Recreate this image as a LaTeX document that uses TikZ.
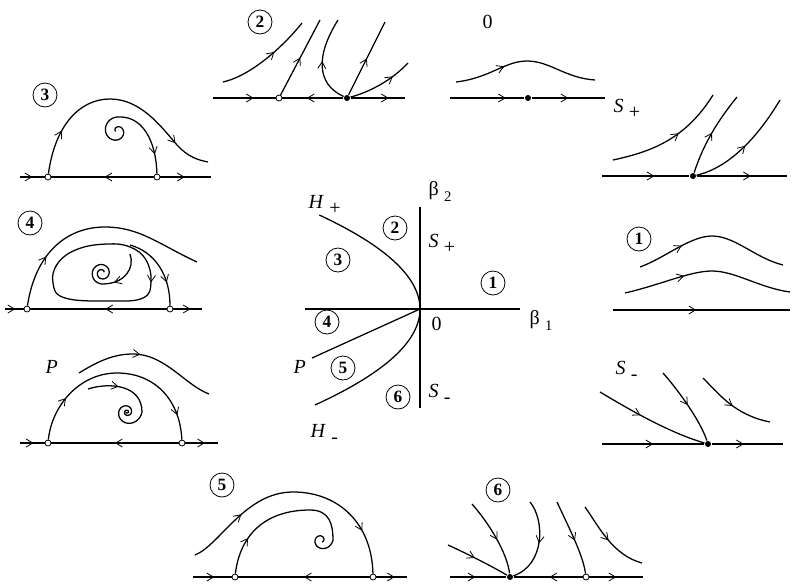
\documentclass[tikz,border=0pt]{standalone}
\usepackage{fontspec}
\setmainfont{Liberation Serif}
\usetikzlibrary{arrows.meta,decorations.markings}
\newcommand\sublab[2]{#1\kern4pt\raisebox{-5pt}{#2}}

\begin{document}
\begin{tikzpicture}[x=0.75pt,y=-0.75pt,line width=0.95pt,font=\fontsize{15}{17}\selectfont,
    flowat/.style={postaction={decorate,decoration={markings,mark=at position #1 with {\arrow{Straight Barb[length=5pt,width=6pt,line width=0.6pt]}}}}},
    opendot/.style={circle,draw,line width=0.6pt,fill=white,inner sep=0pt,minimum size=4.5pt},
    fulldot/.style={circle,fill,inner sep=0pt,minimum size=4.5pt},
    numc/.style={circle,draw,line width=0.6pt,inner sep=0pt,minimum size=18pt,font=\fontsize{13}{15}\selectfont\bfseries},
    lab/.style={inner sep=0pt,anchor=base west}]
    \useasboundingbox (0,0) rectangle (793,583);
    % circled region numbers
    \foreach \n/\x/\y in {3/45/95,2/260/22,4/30/223,1/639/239,5/222/485,6/498/490}
      \node[numc] (pc\n) at (\x,\y) {\n};
    \foreach \n/\x/\y in {2/395/228,3/338/260,1/493/283,4/327/322,5/343/368,6/398/397}
      \node[numc] (rc\n) at (\x,\y) {\n};

    % panel 3
    \node[opendot] (p3a) at (48,177) {};
    \node[opendot] (p3b) at (157,177) {};
    \draw[flowat=.5] (20,177) -- (p3a);
    \draw[flowat=.48] (p3b) -- (p3a);
    \draw[flowat=.48] (p3b) -- (211,177);
    \draw[flowat=.2,flowat=.83] (p3a) .. controls (55,125) and (80,99) .. (110,99) .. controls (140,99) and (160,125) .. (177,145) .. controls (188,157) and (198,160) .. (208,162);
    \draw plot[domain=170:630,samples=70] ({117+(\x-126)/36*cos(\x)},{131+(\x-126)/36*sin(\x)});
    \draw[flowat=.75] (117,117) .. controls (142,115) and (156,140) .. (p3b);

    % panel 2
    \node[opendot] (p2a) at (279,98) {};
    \node[fulldot] (p2b) at (347,98) {};
    \draw[flowat=.65] (213,98) -- (p2a);
    \draw[flowat=.6] (p2b) -- (p2a);
    \draw[flowat=.7] (p2b) -- (405,98);
    \draw[flowat=.6] (223,82) .. controls (250,76) and (282,48) .. (302,23);
    \draw[flowat=.5] (p2a) -- (320,20);
    \draw[flowat=.5] (p2b) .. controls (316,84) and (316,55) .. (338,20);
    \draw[flowat=.5] (p2b) -- (385,22);
    \draw[flowat=.7] (p2b) .. controls (370,92) and (392,80) .. (408,63);

    % panel 0
    \node[fulldot] (p0) at (528,98) {};
    \draw[flowat=.75] (450,98) -- (p0);
    \draw[flowat=.5] (p0) -- (605,98);
    \draw[flowat=.35] (456,82) .. controls (490,78) and (505,61) .. (527,61) .. controls (550,61) and (565,78) .. (595,80);
    \node[lab] (zero) at (482,28) {0};

    % panel S+
    \node[fulldot] (ps) at (693,176) {};
    \draw[flowat=.6] (602,176) -- (ps);
    \draw[flowat=.6] (ps) -- (787,176);
    \draw[flowat=.58] (613,160) .. controls (650,152) and (685,140) .. (713,95);
    \draw[flowat=.5] (ps) .. controls (700,155) and (710,130) .. (737,97);
    \draw[flowat=.5] (ps) .. controls (720,170) and (750,150) .. (780,100);
    \node[lab] (splus) at (613,112) {\sublab{\textit{S}}{+}};

    % panel 4
    \node[opendot] (p4a) at (27,309) {};
    \node[opendot] (p4b) at (170,309) {};
    \draw[flowat=.55] (5,309) -- (p4a);
    \draw[flowat=.45] (p4b) -- (p4a);
    \draw[flowat=.6] (p4b) -- (202,309);
    \draw[flowat=.24] (p4a) .. controls (35,255) and (65,227) .. (105,227) .. controls (140,227) and (160,245) .. (197,262);
    \draw[flowat=.7] (130,245) .. controls (155,252) and (170,275) .. (p4b);
    \draw[flowat=.17] plot[smooth cycle,tension=0.7] coordinates {(107,244) (130,247) (146,260) (151,282) (143,298) (110,301) (65,298) (53,283) (58,263) (78,249)};
    \draw[flowat=.75] (130,254) .. controls (135,268) and (125,284) .. (102,284);
    \draw plot[domain=90:700,samples=70] ({102+(11-(\x-90)/70)*cos(\x)},{273+(11-(\x-90)/70)*sin(\x)});

    % panel 1
    \draw[flowat=.47] (613,310) -- (790,310);
    \draw[flowat=.3] (640,267) .. controls (665,258) and (690,236) .. (712,236) .. controls (735,236) and (755,258) .. (783,265);
    \draw[flowat=.36] (625,293) .. controls (660,285) and (690,271) .. (712,271) .. controls (735,271) and (760,288) .. (790,292);

    % panel P
    \node[opendot] (ppa) at (48,443) {};
    \node[opendot] (ppb) at (182,443) {};
    \draw[flowat=.55] (20,443) -- (ppa);
    \draw[flowat=.5] (ppb) -- (ppa);
    \draw[flowat=.6] (ppb) -- (218,443);
    \draw[flowat=.45] (79,373) .. controls (100,360) and (115,354) .. (133,354) .. controls (165,354) and (185,385) .. (209,394);
    \draw[flowat=.22,flowat=.88] (ppa) .. controls (52,405) and (80,373) .. (117,373) .. controls (155,373) and (180,400) .. (ppb);
    \draw[flowat=.45] (88,389) .. controls (110,382) and (142,385) .. (142,412);
    \draw plot[domain=0:900,samples=90] ({127+15*exp(-\x/300)*cos(\x)},{412+15*exp(-\x/300)*sin(\x)});
    \node[lab] (plab) at (45,373) {\textit{P}};

    % panel S-
    \node[fulldot] (sm) at (708,444) {};
    \draw[flowat=.5] (602,444) -- (sm);
    \draw[flowat=.45] (sm) -- (783,444);
    \draw[flowat=.4] (600,392) .. controls (630,410) and (670,433) .. (sm);
    \draw[flowat=.5] (663,373) .. controls (678,390) and (700,420) .. (sm);
    \draw[flowat=.5] (703,378) .. controls (720,395) and (735,415) .. (770,422);
    \node[lab] (sminus) at (615,374) {\sublab{\textit{S}}{-}};

    % panel 5
    \node[opendot] (p5a) at (235,577) {};
    \node[opendot] (p5b) at (373,577) {};
    \draw[flowat=.55] (193,577) -- (p5a);
    \draw[flowat=.5] (p5b) -- (p5a);
    \draw[flowat=.6] (p5b) -- (407,577);
    \draw[flowat=.25,flowat=.82] (195,555) .. controls (220,545) and (245,492) .. (293,492) .. controls (340,492) and (372,525) .. (p5b);
    \draw[flowat=.25] (p5a) .. controls (240,535) and (265,510) .. (310,510) .. controls (330,510) and (333,525) .. (333,540);
    \draw plot[domain=0:420,samples=50] ({321+12*exp(-\x/250)*cos(\x)},{540+12*exp(-\x/250)*sin(\x)});

    % panel 6
    \node[fulldot] (p6a) at (510,577) {};
    \node[opendot] (p6b) at (586,577) {};
    \draw[flowat=.45] (450,577) -- (p6a);
    \draw[flowat=.48] (p6b) -- (p6a);
    \draw[flowat=.5] (p6b) -- (643,577);
    \draw[flowat=.45] (448,545) .. controls (470,555) and (495,568) .. (p6a);
    \draw[flowat=.55] (472,504) .. controls (488,522) and (507,552) .. (p6a);
    \draw[flowat=.5] (530,502) .. controls (545,520) and (545,565) .. (p6a);
    \draw[flowat=.55] (557,502) .. controls (570,530) and (583,555) .. (p6b);
    \draw[flowat=.5] (585,507) .. controls (598,525) and (612,555) .. (642,563);

    % bifurcation diagram
    \coordinate (o) at (420,309);
    \draw (420,207) -- (420,408);
    \draw (o) -- (520,309);
    \draw[line width=1.6pt] (305,309) -- (o);
    \draw plot[domain=-94:96,samples=60] ({420-0.0114*\x*\x},{309+\x});
    \draw (o) -- (312,358);
    \node[lab] (b2) at (428,195) {\sublab{β}{\fontsize{11}{12}\selectfont 2}};
    \node[lab] (b1) at (529,324) {\sublab{β}{\fontsize{11}{12}\selectfont 1}};
    \node[lab] (hp) at (308,208) {\sublab{\textit{H}}{+}};
    \node[lab] (hm) at (310,437) {\sublab{\textit{H}}{-}};
    \node[lab] (sp) at (428,247) {\sublab{\textit{S}}{+}};
    \node[lab] (sm2) at (428,397) {\sublab{\textit{S}}{-}};
    \node[lab] (pc) at (293,373) {\textit{P}};
    \node[lab] (oc) at (431,330) {0};
  \end{tikzpicture}
\end{document}
